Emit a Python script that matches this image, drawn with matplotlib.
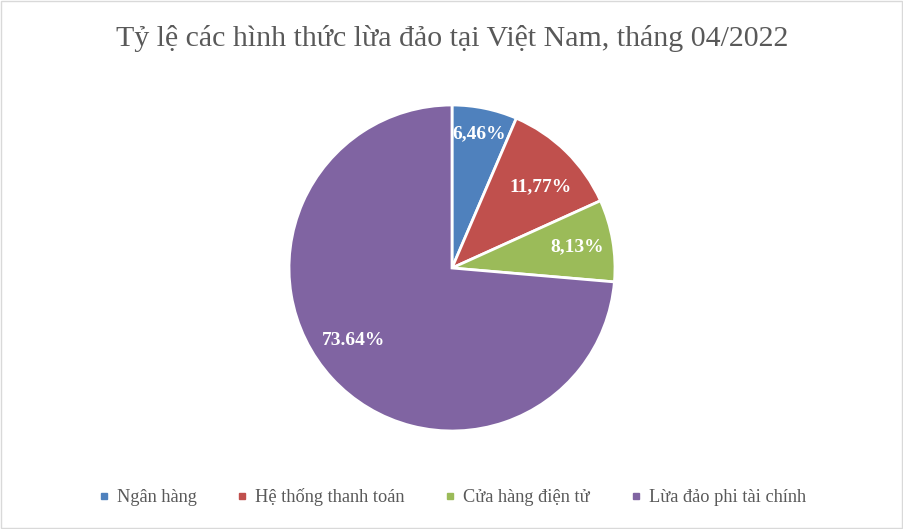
import matplotlib
matplotlib.use("Agg")
import matplotlib.pyplot as plt
import numpy as np
from matplotlib.patches import Rectangle
from matplotlib.lines import Line2D

categories = ["Ngân hàng", "Hệ thống thanh toán", "Cửa hàng điện tử", "Lừa đảo phi tài chính"]
shares = [6.46, 11.77, 8.13, 73.64]
value_labels = ["6,46%", "11,77%", "8,13%", "73.64%"]
colors = ["#4F81BD", "#C0504D", "#9BBB59", "#8064A2"]
title = "Tỷ lệ các hình thức lừa đảo tại Việt Nam, tháng 04/2022"

plt.rcParams["font.family"] = ["Liberation Serif", "DejaVu Serif"]

fig = plt.figure(figsize=(9.04, 5.29), dpi=100)
fig.patch.set_facecolor("white")
fig.patches.append(Rectangle((0.001, 0.001), 0.997, 0.997, transform=fig.transFigure,
                             fill=False, edgecolor="#D9D9D9", linewidth=1))

# pie axes: center at (452, 268) px, radius ~163 px
cx, cy, r = 452 / 904, 1 - 268 / 529, 163
ax = fig.add_axes([cx - r / 904, cy - r / 529, 2 * r / 904, 2 * r / 529])
wedges, _ = ax.pie(shares, colors=colors, startangle=90, counterclock=False,
                   wedgeprops=dict(edgecolor="white", linewidth=2))
ax.set_xlim(-1, 1)
ax.set_ylim(-1, 1)
ax.set_aspect("equal")

label_r = [0.84, 0.74, 0.78, 0.75]
label_shift = [0, 3, 0, 6]
for w, lab, lr, sh in zip(wedges, value_labels, label_r, label_shift):
    mid = np.deg2rad((w.theta1 + w.theta2) / 2 - sh)
    ax.text(lr * np.cos(mid), lr * np.sin(mid), lab, ha="center", va="center",
            color="white", fontsize=14, fontweight="bold")

fig.text(0.5, 1 - 38 / 529, title, ha="center", va="center", fontsize=21.5, color="#595959")

handles = [Line2D([], [], marker="s", linestyle="", markersize=5, markerfacecolor=c,
                  markeredgecolor=c) for c in colors]
fig.legend(handles, categories, loc="center", bbox_to_anchor=(0.5, 1 - 497 / 529),
           ncol=4, frameon=False, fontsize=13.2, handlelength=0.6, handletextpad=0.4,
           columnspacing=2.2, labelcolor="#595959")

fig.savefig("out.png", dpi=100)
